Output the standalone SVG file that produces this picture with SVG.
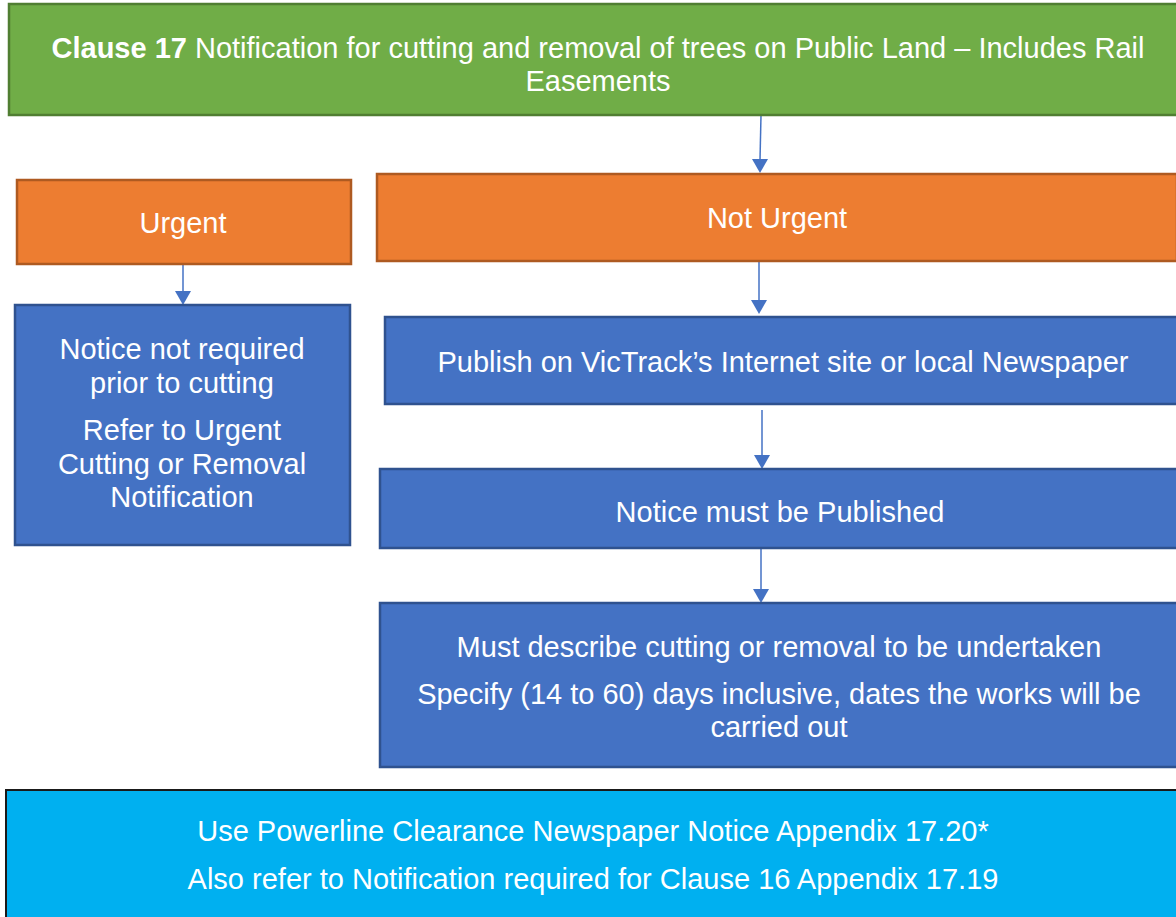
<svg xmlns="http://www.w3.org/2000/svg" width="1176" height="917" viewBox="0 0 1176 917">
<style>
text{font-family:"Liberation Sans",Arial,sans-serif;font-size:29px;fill:#fff;text-anchor:middle}
.g{fill:#70AD47;stroke:#507E32;stroke-width:2.5}
.o{fill:#ED7D31;stroke:#AE5A21;stroke-width:2.5}
.b{fill:#4472C4;stroke:#2F528F;stroke-width:2.5}
.c{fill:#00B0F0;stroke:#1a1a1a;stroke-width:2}
.ln{stroke:#4472C4;stroke-width:1.5;fill:none}
.hd{fill:#4472C4}
</style>
<rect width="1176" height="917" fill="#fff"/>
<g id="connectors">
<line class="ln" x1="761" y1="115" x2="760" y2="160"/>
<path class="hd" d="M752,159 L768,159 L760,173 z"/>
<line class="ln" x1="183" y1="264" x2="183" y2="292"/>
<path class="hd" d="M175,291 L191,291 L183,305 z"/>
<line class="ln" x1="759" y1="256" x2="759" y2="301"/>
<path class="hd" d="M751,300 L767,300 L759,314 z"/>
<line class="ln" x1="762" y1="410" x2="762" y2="456"/>
<path class="hd" d="M754,455 L770,455 L762,469 z"/>
<line class="ln" x1="761" y1="548" x2="761" y2="590"/>
<path class="hd" d="M753,589 L769,589 L761,603 z"/>
</g>
<g id="clause17">
<rect class="g" x="9" y="4" width="1180" height="111"/>
<text x="598" y="58"><tspan font-weight="bold">Clause 17</tspan> Notification for cutting and removal of trees on Public Land – Includes Rail</text>
<text x="598" y="91">Easements</text>
</g>
<g id="urgent">
<rect class="o" x="17" y="180" width="334" height="84"/>
<text x="183" y="233">Urgent</text>
</g>
<g id="not-urgent">
<rect class="o" x="377" y="174" width="800" height="87"/>
<text x="777" y="228">Not Urgent</text>
</g>
<g id="notice-not-required">
<rect class="b" x="15" y="305" width="335" height="240"/>
<text x="182" y="359">Notice not required</text>
<text x="182" y="393">prior to cutting</text>
<text x="182" y="440">Refer to Urgent</text>
<text x="182" y="474">Cutting or Removal</text>
<text x="182" y="507">Notification</text>
</g>
<g id="publish">
<rect class="b" x="385" y="317" width="800" height="87"/>
<text x="783" y="372">Publish on VicTrack’s Internet site or local Newspaper</text>
</g>
<g id="notice-published">
<rect class="b" x="380" y="469" width="805" height="79"/>
<text x="780" y="522">Notice must be Published</text>
</g>
<g id="describe">
<rect class="b" x="380" y="603" width="805" height="164"/>
<text x="779" y="657">Must describe cutting or removal to be undertaken</text>
<text x="779" y="704">Specify (14 to 60) days inclusive, dates the works will be</text>
<text x="779" y="737">carried out</text>
</g>
<g id="appendix">
<rect class="c" x="6" y="790" width="1180" height="140"/>
<text x="593" y="841">Use Powerline Clearance Newspaper Notice Appendix 17.20*</text>
<text x="593" y="889">Also refer to Notification required for Clause 16 Appendix 17.19</text>
</g>
</svg>
